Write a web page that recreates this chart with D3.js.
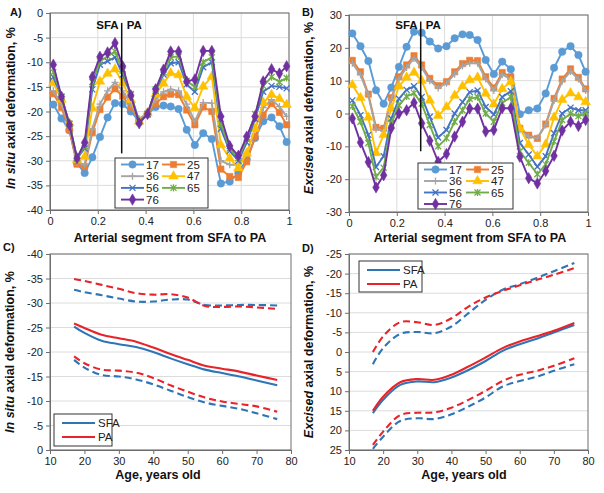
<!DOCTYPE html>
<html><head><meta charset="utf-8">
<script src="https://cdn.jsdelivr.net/npm/d3@7"></script>
<style>body{margin:0;background:#fff;} svg{display:block;font-family:"Liberation Sans",Arial,sans-serif;}</style>
</head><body><svg id="c" width="604" height="493"></svg>
<script>
// ---------- DATA ----------
const segX = [0.014,0.048,0.081,0.113,0.145,0.177,0.209,0.241,0.272,0.304,0.338,0.373,0.408,0.442,0.475,0.505,0.538,0.572,0.606,0.641,0.677,0.715,0.752,0.788,0.823,0.858,0.892,0.927,0.960,0.990];
const ageGroups = ["17","25","36","47","56","65","76"];

const insitu17 = [-18.6,-21.4,-23.8,-30.5,-32.5,-29.3,-25.2,-21.2,-18.3,-18.5,-20.0,-22.0,-20.5,-19.1,-18.8,-19.0,-19.5,-23.7,-26.8,-24.4,-25.6,-34.6,-34.2,-32.5,-29.7,-25.4,-22.0,-21.2,-23.0,-26.2];
const insitu25 = [-16.4,-19.2,-23.7,-30.7,-31.2,-24.3,-19.6,-17.1,-15.4,-16.9,-19.1,-21.8,-20.6,-18.4,-17.0,-16.5,-16.6,-19.7,-22.7,-19.1,-20.0,-31.7,-33.2,-33.4,-30.2,-25.1,-20.7,-18.4,-20.2,-22.7];
const insitu36 = [-15.8,-18.5,-23.0,-30.3,-30.8,-23.5,-18.5,-15.8,-14.1,-15.8,-18.5,-21.5,-20.3,-17.5,-16.0,-15.5,-15.8,-18.5,-22.0,-18.2,-18.3,-30.0,-30.8,-30.8,-28.5,-23.5,-19.2,-17.6,-19.0,-21.0];
const insitu47 = [-14.2,-17.6,-22.4,-29.8,-29.2,-19.3,-13.9,-12.3,-11.4,-14.2,-17.6,-22.0,-20.3,-16.5,-14.3,-12.2,-12.6,-17.0,-19.3,-14.9,-12.9,-26.8,-29.5,-31.5,-28.5,-23.5,-18.2,-16.6,-17.4,-18.6];
const insitu56 = [-13.0,-17.0,-22.5,-29.5,-27.5,-15.5,-10.5,-9.8,-9.0,-12.5,-16.5,-22.0,-20.5,-15.8,-12.5,-10.2,-10.0,-14.5,-16.0,-11.0,-10.0,-23.5,-28.0,-30.0,-26.3,-21.5,-16.0,-14.8,-15.0,-15.3];
const insitu65 = [-12.0,-17.0,-22.5,-29.5,-27.0,-14.0,-9.8,-8.8,-7.8,-11.7,-16.5,-22.2,-20.5,-15.5,-12.0,-9.0,-8.8,-13.8,-15.0,-10.0,-9.0,-22.5,-27.5,-29.5,-25.5,-20.5,-14.8,-13.0,-14.0,-13.2];
const insitu76 = [-10.5,-17.0,-22.7,-29.5,-26.3,-13.0,-8.9,-8.0,-6.1,-10.8,-16.7,-22.4,-20.5,-15.5,-11.5,-7.8,-7.8,-13.9,-13.5,-7.7,-7.7,-21.0,-27.0,-29.0,-25.1,-21.0,-13.9,-11.4,-12.3,-10.8];

const excised17 = [24.4,20.5,16.0,7.1,3.0,7.9,14.2,20.3,24.9,24.6,21.9,19.8,20.5,22.9,24.1,23.9,22.4,16.3,12.0,15.8,13.5,-0.2,1.0,1.5,6.1,13.9,18.8,20.5,17.8,12.7];
const excised25 = [16.2,12.7,5.9,-4.2,-4.5,4.8,11.2,14.8,17.6,14.8,10.7,8.5,9.7,12.7,15.2,16.2,16.1,11.2,7.8,12.5,11.2,-4.5,-6.6,-7.6,-3.2,4.6,10.5,13.6,11.0,7.5];
const excised36 = [15.3,11.8,5.5,-4.8,-5.2,4.3,10.5,14.0,16.8,14.0,10.0,7.8,9.2,12.0,14.5,15.3,15.3,10.5,7.0,11.8,10.5,-5.0,-7.0,-7.5,-3.5,4.0,9.8,12.8,10.5,7.0];
const excised47 = [8.7,4.8,-1.2,-12.0,-6.5,1.5,8.3,11.0,12.5,10.0,4.0,-0.7,2.0,5.5,8.3,10.2,11.0,6.1,2.8,7.5,9.7,-4.5,-9.5,-13.0,-9.4,-1.2,4.2,6.2,5.0,3.5];
const excised56 = [4.0,-0.5,-6.5,-16.3,-13.0,-1.5,4.5,7.2,8.3,5.0,-1.0,-7.3,-5.0,0.0,3.5,6.5,7.0,2.0,-0.3,5.0,6.8,-9.0,-12.5,-16.2,-13.0,-6.0,0.0,1.8,1.0,1.0];
const excised65 = [2.2,-2.5,-9.0,-19.3,-16.5,-3.0,2.5,5.2,6.2,3.0,-3.5,-10.0,-7.5,-2.5,1.0,4.5,5.0,0.0,-2.5,3.2,5.0,-11.5,-15.0,-18.5,-15.5,-8.5,-2.0,0.0,-0.8,0.0];
const excised76 = [-1.5,-8.8,-14.8,-22.5,-18.8,-4.4,0.0,1.0,3.3,-3.0,-8.3,-14.7,-12.3,-7.0,-2.5,1.5,1.5,-5.5,-5.0,1.6,1.6,-13.2,-19.7,-21.3,-17.5,-12.9,-5.2,-2.5,-3.8,-2.0];

const ages = [17,20,25,30,35,40,45,50,55,60,65,70,76];
const insituSFA   = [-25.2,-23.9,-22.3,-21.6,-21.0,-20.0,-18.7,-17.5,-16.4,-15.7,-15.0,-14.2,-13.2];
const insituPA    = [-25.8,-24.9,-23.5,-22.8,-22.1,-20.9,-19.6,-18.4,-17.2,-16.6,-16.0,-15.2,-14.3];
const insituSFAhi = [-32.7,-32.2,-31.6,-30.9,-30.3,-30.3,-30.7,-30.7,-29.6,-29.5,-29.6,-29.6,-29.5];
const insituPAhi  = [-34.9,-34.5,-33.7,-32.9,-32.0,-31.7,-31.8,-31.1,-29.4,-29.2,-29.3,-29.1,-28.8];
const insituSFAlo = [-18.4,-16.8,-15.3,-15.0,-14.4,-13.4,-12.1,-10.8,-9.7,-9.0,-8.4,-7.5,-6.3];
const insituPAlo  = [-19.1,-17.7,-16.4,-16.2,-15.8,-14.7,-13.2,-11.9,-10.7,-9.9,-9.4,-8.9,-7.8];

const excisedSFA   = [15.6,12.2,8.4,7.5,7.7,6.5,4.6,2.3,-0.3,-2.0,-3.4,-5.0,-6.9];
const excisedPA    = [15.0,11.4,7.7,6.9,7.1,5.8,3.7,1.4,-1.0,-2.7,-4.0,-5.4,-7.4];
const excisedSFAhi = [3.1,-1.0,-4.6,-5.1,-4.8,-6.5,-9.9,-13.3,-15.9,-17.3,-18.9,-20.6,-22.7];
const excisedPAhi  = [0.0,-4.0,-7.6,-7.6,-6.9,-8.6,-11.6,-13.9,-15.6,-17.0,-18.4,-19.7,-21.4];
const excisedSFAlo = [24.7,21.6,17.6,16.9,17.1,15.9,13.9,11.6,8.8,7.4,6.3,4.8,3.1];
const excisedPAlo  = [23.7,20.3,16.1,15.5,15.4,14.2,12.2,9.9,7.4,5.8,4.8,3.5,1.6];

const segTicks = [0,0.2,0.4,0.6,0.8,1];
const insituSegTicks = [0,-5,-10,-15,-20,-25,-30,-35,-40];
const excisedSegTicks = [30,20,10,0,-10,-20,-30];
const ageTicks = [10,20,30,40,50,60,70,80];
const insituAgeTicks = [-40,-35,-30,-25,-20,-15,-10,-5,0];
const excisedAgeTicks = [-25,-20,-15,-10,-5,0,5,10,15,20,25];

// ---------- STYLE ----------
const svg = d3.select("#c");
const seriesColor = {"17":"#5b9bd5","25":"#ed7d31","36":"#a5a5a5","47":"#ffc000","56":"#4472c4","65":"#70ad47","76":"#7030a0"};
const symPlus = {draw(c,s){const r=Math.sqrt(s)/2;c.moveTo(-r,0);c.lineTo(r,0);c.moveTo(0,-r);c.lineTo(0,r);}};
const symX = {draw(c,s){const r=Math.sqrt(s)/2;c.moveTo(-r,-r);c.lineTo(r,r);c.moveTo(-r,r);c.lineTo(r,-r);}};
const symAst = {draw(c,s){const r=Math.sqrt(s)/2;c.moveTo(-r,-r);c.lineTo(r,r);c.moveTo(-r,r);c.lineTo(r,-r);c.moveTo(0,-r*1.2);c.lineTo(0,r*1.2);}};
const seriesSym = {
  "17":{type:d3.symbolCircle,size:44,fill:true},
  "25":{type:d3.symbolSquare,size:40,fill:true},
  "36":{type:symPlus,size:50,fill:false},
  "47":{type:d3.symbolTriangle,size:40,fill:true},
  "56":{type:symX,size:36,fill:false},
  "65":{type:symAst,size:36,fill:false},
  "76":{type:d3.symbolDiamond,size:38,fill:true}
};
const SFAc = "#2e75b6", PAc = "#e8232a";
const gridC = "#dcdcdc", boxC = "#6e6e6e";

function frame(x, y, xticks, yticks, vgrid, xfmt) {
  const [x0,x1] = x.range();
  const yt = Math.min(...y.range()), yb = Math.max(...y.range());
  const g = svg.append("g");
  g.append("g").selectAll("line").data(yticks).join("line")
    .attr("x1",x0).attr("x2",x1).attr("y1",d=>y(d)).attr("y2",d=>y(d))
    .attr("stroke",gridC).attr("stroke-width",1);
  if (vgrid) g.append("g").selectAll("line").data(xticks).join("line")
    .attr("y1",yt).attr("y2",yb).attr("x1",d=>x(d)).attr("x2",d=>x(d))
    .attr("stroke",gridC).attr("stroke-width",1);
  g.append("rect").attr("x",x0).attr("y",yt).attr("width",x1-x0).attr("height",yb-yt)
    .attr("fill","none").attr("stroke",boxC).attr("stroke-width",1);
  const ay = g.append("g").attr("transform",`translate(${x0},0)`)
    .call(d3.axisLeft(y).tickValues(yticks).tickSize(4).tickPadding(3).tickFormat(d=>String(d)));
  const ax = g.append("g").attr("transform",`translate(0,${yb})`)
    .call(d3.axisBottom(x).tickValues(xticks).tickSize(4).tickPadding(3).tickFormat(xfmt||(d=>String(d))));
  [ay,ax].forEach(a=>{
    a.select(".domain").attr("stroke",boxC);
    a.selectAll(".tick line").attr("stroke",boxC);
    a.selectAll(".tick text").attr("font-size",11).attr("fill","#222").attr("font-family","Liberation Sans, Arial, sans-serif");
  });
}

function yTitle(x, cy, ital, rest) {
  const t = svg.append("text").attr("transform",`translate(${x},${cy}) rotate(-90)`)
    .attr("text-anchor","middle").attr("font-weight","bold").attr("font-size",12.5).attr("fill","#111");
  t.append("tspan").attr("font-style","italic").text(ital);
  t.append("tspan").text(rest);
}
function xTitle(cx, y, txt) {
  svg.append("text").attr("x",cx).attr("y",y).attr("text-anchor","middle")
    .attr("font-weight","bold").attr("font-size",12.5).attr("fill","#111").text(txt);
}
function panelLabel(x, y, txt) {
  svg.append("text").attr("x",x).attr("y",y).attr("font-weight","bold").attr("font-size",11).attr("fill","#111").text(txt);
}
function marker(g, key, cx, cy) {
  const s = seriesSym[key], c = seriesColor[key];
  g.append("path").attr("transform",`translate(${cx},${cy})`)
    .attr("d", d3.symbol().type(s.type).size(s.size)())
    .attr("fill", s.fill ? c : "none").attr("stroke", c).attr("stroke-width", s.fill ? 0.5 : 1.3);
}

function segPanel(x, y, seriesList, yticks, sfaTop, sfaBot, labelY, legend) {
  frame(x, y, segTicks, yticks, true);
  const g = svg.append("g");
  const line = d3.line().x((d,i)=>x(segX[i])).y(d=>y(d));
  seriesList.forEach((vals, k) => {
    const key = ageGroups[k];
    g.append("path").attr("d", line(vals)).attr("fill","none")
      .attr("stroke", seriesColor[key]).attr("stroke-width",1.9);
    vals.forEach((v,i)=>marker(g, key, x(segX[i]), y(v)));
  });
  // SFA | PA divider
  const xd = x(0.3);
  svg.append("line").attr("x1",xd).attr("x2",xd).attr("y1",y(sfaTop)).attr("y2",y(sfaBot))
    .attr("stroke","#111").attr("stroke-width",1.5);
  svg.append("text").attr("x",xd-3).attr("y",labelY).attr("text-anchor","end")
    .attr("font-weight","bold").attr("font-size",11.5).attr("fill","#111").text("SFA");
  svg.append("text").attr("x",xd+5).attr("y",labelY).attr("text-anchor","start")
    .attr("font-weight","bold").attr("font-size",11.5).attr("fill","#111").text("PA");
  // legend
  const L = svg.append("g");
  L.append("rect").attr("x",legend.x).attr("y",legend.y).attr("width",legend.w).attr("height",legend.h)
    .attr("fill","#fff").attr("stroke","#333").attr("stroke-width",1);
  ageGroups.forEach((key,k)=>{
    const col = k % 2, row = Math.floor(k/2);
    const lx = legend.x + 6 + col*legend.colW, ly = legend.y + 6.5 + row*legend.rowH;
    L.append("line").attr("x1",lx).attr("x2",lx+23).attr("y1",ly).attr("y2",ly)
      .attr("stroke",seriesColor[key]).attr("stroke-width",1.9);
    marker(L, key, lx+11.5, ly);
    L.append("text").attr("x",lx+25).attr("y",ly+4).attr("font-size",11.5).attr("fill","#222").text(key);
  });
}

function agePanel(x, y, yticks, sets, legend) {
  frame(x, y, ageTicks, yticks, false);
  const g = svg.append("g");
  const line = d3.line().x((d,i)=>x(ages[i])).y(d=>y(d)).curve(d3.curveCatmullRom.alpha(0.5));
  sets.forEach(s=>{
    g.append("path").attr("d", line(s.v)).attr("fill","none").attr("stroke",s.c)
      .attr("stroke-width",2.1).attr("stroke-dasharray", s.dash ? "7,4" : null);
  });
  const L = svg.append("g");
  L.append("rect").attr("x",legend.x).attr("y",legend.y).attr("width",legend.w).attr("height",legend.h)
    .attr("fill","#fff").attr("stroke","#333").attr("stroke-width",1);
  [["SFA",SFAc],["PA",PAc]].forEach(([t,c],k)=>{
    const ly = legend.y + 9 + k*14;
    L.append("line").attr("x1",legend.x+8).attr("x2",legend.x+41).attr("y1",ly).attr("y2",ly)
      .attr("stroke",c).attr("stroke-width",2.1);
    L.append("text").attr("x",legend.x+44).attr("y",ly+4).attr("font-size",11.5).attr("fill","#222").text(t);
  });
}

// ---------- PANEL A ----------
const xA = d3.scaleLinear().domain([0,1]).range([50,289]);
const yA = d3.scaleLinear().domain([-40,0]).range([210,13]);
segPanel(xA, yA, [insitu17,insitu25,insitu36,insitu47,insitu56,insitu65,insitu76], insituSegTicks,
  -2, -28.5, 29, {x:115,y:158,w:93,h:50,colW:41,rowH:11.7});
yTitle(15, 108, "In situ", " axial deformation, %");
xTitle(170, 242, "Arterial segment from SFA to PA");
panelLabel(10, 16, "A)");

// ---------- PANEL B ----------
const xB = d3.scaleLinear().domain([0,1]).range([349,588]);
const yB = d3.scaleLinear().domain([-30,30]).range([212,15]);
segPanel(xB, yB, [excised17,excised25,excised36,excised47,excised56,excised65,excised76], excisedSegTicks,
  28, -11.5, 29, {x:418,y:163,w:95,h:46,colW:42,rowH:11.5});
yTitle(313, 108, "Excised", " axial deformation, %");
xTitle(470, 242, "Arterial segment from SFA to PA");
panelLabel(302, 16, "B)");

// ---------- PANEL C ----------
const xC = d3.scaleLinear().domain([10,80]).range([50,291]);
const yC = d3.scaleLinear().domain([-40,0]).range([254,450]);
agePanel(xC, yC, insituAgeTicks, [
  {v:insituSFAhi,c:SFAc,dash:true},{v:insituSFAlo,c:SFAc,dash:true},
  {v:insituPAhi,c:PAc,dash:true},{v:insituPAlo,c:PAc,dash:true},
  {v:insituSFA,c:SFAc},{v:insituPA,c:PAc}
], {x:54,y:414,w:58,h:32});
yTitle(14, 352, "In situ", " axial deformation, %");
xTitle(158, 479, "Age, years old");
panelLabel(3, 251, "C)");

// ---------- PANEL D ----------
const xD = d3.scaleLinear().domain([10,80]).range([349,588]);
const yD = d3.scaleLinear().domain([-25,25]).range([254,450]);
agePanel(xD, yD, excisedAgeTicks, [
  {v:excisedSFAhi,c:SFAc,dash:true},{v:excisedSFAlo,c:SFAc,dash:true},
  {v:excisedPAhi,c:PAc,dash:true},{v:excisedPAlo,c:PAc,dash:true},
  {v:excisedSFA,c:SFAc},{v:excisedPA,c:PAc}
], {x:359,y:261,w:63,h:31});
yTitle(313, 352, "Excised", " axial deformation, %");
xTitle(464, 479, "Age, years old");
panelLabel(302, 252, "D)");
</script></body></html>
